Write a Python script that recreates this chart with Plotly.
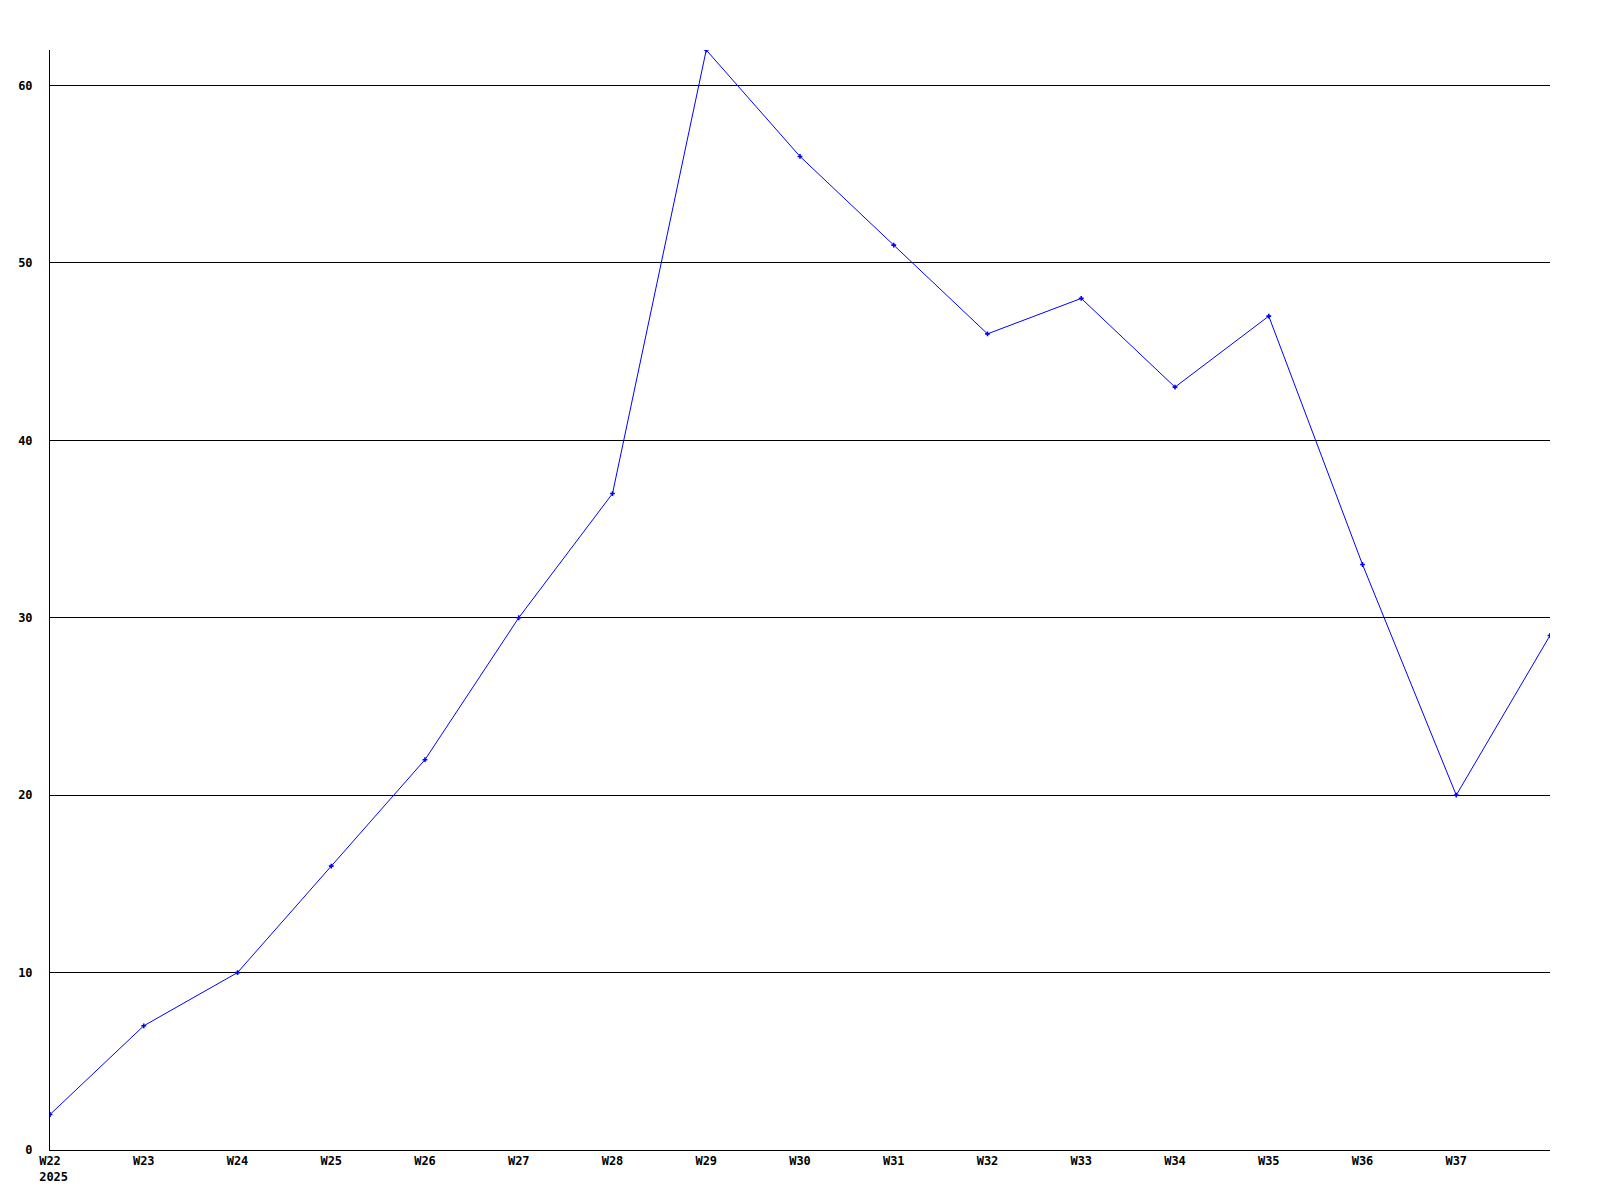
import plotly.graph_objects as go

weeks = ["W22", "W23", "W24", "W25", "W26", "W27", "W28", "W29", "W30",
         "W31", "W32", "W33", "W34", "W35", "W36", "W37", "W38"]
values = [2, 7, 10, 16, 22, 30, 37, 62, 56, 51, 46, 48, 43, 47, 33, 20, 29]
tick_labels = ["W22<br>\u00a02025"] + weeks[1:16]
y_ticks = [0, 10, 20, 30, 40, 50, 60]

x = list(range(len(weeks)))

fig = go.Figure()
fig.add_trace(go.Scatter(
    x=x, y=values, mode="lines+markers",
    line=dict(color="#0000ff", width=1),
    marker=dict(symbol="cross", size=4, color="#0000ff"),
    cliponaxis=True,
    showlegend=False,
))

tf = dict(family="DejaVu Sans Mono", size=12, color="black", weight="bold")

# page body has an 8px default margin, so offset the plot margins accordingly
fig.update_layout(
    width=1600, height=1200,
    margin=dict(l=42, r=58, t=42, b=58),
    paper_bgcolor="white", plot_bgcolor="white",
    font=tf,
    xaxis=dict(
        range=[0, len(weeks) - 1],
        tickvals=x[:16], ticktext=tick_labels,
        showgrid=False, zeroline=False,
        showline=True, linecolor="black", linewidth=1,
        ticks="", tickfont=tf, automargin=False,
    ),
    yaxis=dict(
        range=[0, 62],
        tickvals=y_ticks,
        showgrid=True, gridcolor="black", gridwidth=1,
        zeroline=False,
        showline=True, linecolor="black", linewidth=1,
        ticks="", ticklabelstandoff=14,
        tickfont=tf, automargin=False,
    ),
)

fig.write_html("out.html")
